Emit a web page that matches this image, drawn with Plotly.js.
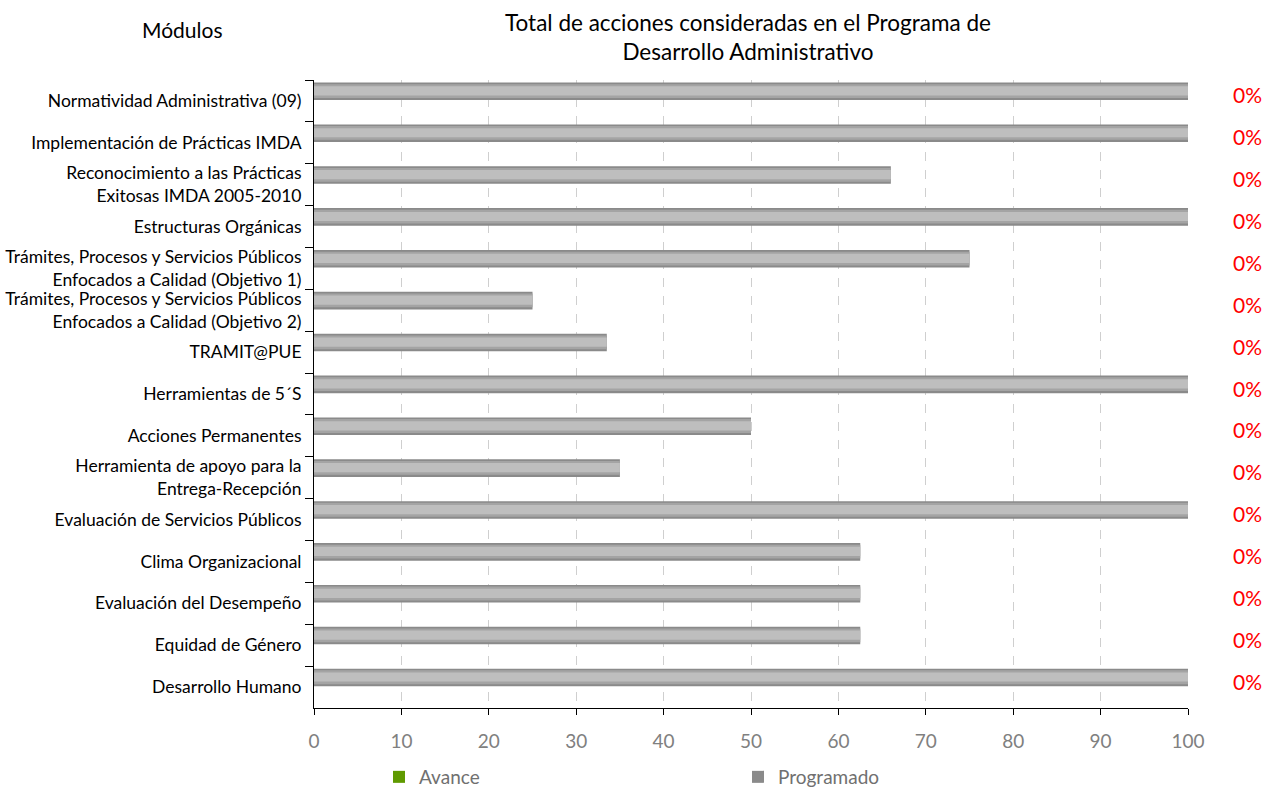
<!DOCTYPE html>
<html><head><meta charset="utf-8">
<script src="https://cdn.plot.ly/plotly-3.0.1.min.js"></script>
<style>body{margin:0;background:#fff}#c{width:1268px;height:789px}</style>
</head><body><div id="c"></div>
<script>
const categories = [
  "Normatividad Administrativa (09)",
  "Implementación de Prácticas IMDA",
  "Reconocimiento a las Prácticas<br>Exitosas IMDA 2005-2010",
  "Estructuras Orgánicas",
  "Trámites, Procesos y Servicios Públicos<br>Enfocados a Calidad (Objetivo 1)",
  "Trámites, Procesos y Servicios Públicos<br>Enfocados a Calidad (Objetivo 2)",
  "TRAMIT@PUE",
  "Herramientas de 5´S",
  "Acciones Permanentes",
  "Herramienta de apoyo para la<br>Entrega-Recepción",
  "Evaluación de Servicios Públicos",
  "Clima Organizacional",
  "Evaluación del Desempeño",
  "Equidad de Género",
  "Desarrollo Humano"
];
const programado = [100, 100, 66, 100, 75, 25, 33.5, 100, 50, 35, 100, 62.5, 62.5, 62.5, 100];
const avance = [0, 0, 0, 0, 0, 0, 0, 0, 0, 0, 0, 0, 0, 0, 0];
const avanceLabels = ["0%","0%","0%","0%","0%","0%","0%","0%","0%","0%","0%","0%","0%","0%","0%"];
const xTicks = [0,10,20,30,40,50,60,70,80,90,100];

const FONT = "Lato, 'Open Sans', sans-serif";
const traces = [
  {type:'bar', orientation:'h', name:'Avance', y:categories, x:avance,
   marker:{color:'#5f9a00', line:{width:0}}, offset:0.0, width:0.4, hoverinfo:'skip'},
  {type:'bar', orientation:'h', name:'Programado', y:categories, x:programado,
   marker:{color:'#8a8a8a', line:{width:0}}, offset:-0.44, width:0.42, hoverinfo:'skip'},
  {type:'bar', orientation:'h', name:'p2', showlegend:false, y:categories, x:programado,
   marker:{color:'#a4a4a4', line:{width:0}}, offset:-0.40, width:0.33, hoverinfo:'skip'},
  {type:'bar', orientation:'h', name:'p3', showlegend:false, y:categories, x:programado,
   marker:{color:'#bebebe', line:{width:0}}, offset:-0.35, width:0.22, hoverinfo:'skip'}
];

const annotations = categories.map((c,i)=>({
  xref:'paper', yref:'y', x:1.0686, y:c, text:avanceLabels[i], showarrow:false,
  xanchor:'center', yanchor:'middle', yshift:6,
  font:{family:FONT, size:21, color:'#ff0000'}
}));
annotations.push({xref:'paper', yref:'paper', x:(182-314)/874, y:1+(80-30)/628, text:'Módulos',
  showarrow:false, xanchor:'center', yanchor:'middle', font:{family:FONT, size:21, color:'#000'}});
annotations.push({xref:'paper', yref:'paper', x:(748-314)/874, y:1+(80-37)/628,
  text:'Total de acciones consideradas en el Programa de<br>Desarrollo Administrativo',
  showarrow:false, xanchor:'center', yanchor:'middle', align:'center',
  font:{family:FONT, size:22.5, color:'#000'}});

const layout = {
  width:1268, height:789,
  margin:{l:314, r:80, t:80, b:81, autoexpand:false},
  paper_bgcolor:'#fff', plot_bgcolor:'#fff',
  barmode:'overlay',
  font:{family:FONT},
  xaxis:{range:[0,100], tickvals:xTicks, ticktext:xTicks.map(String), showgrid:true,
    gridcolor:'#cfcfcf', griddash:'dash', gridwidth:1,
    showline:true, linecolor:'#000', linewidth:1, ticks:'outside', ticklen:6, tickcolor:'#000',
    tickfont:{family:FONT, size:19, color:'#808080'}, ticklabelstandoff:10, zeroline:false, fixedrange:true, automargin:false},
  yaxis:{type:'category', autorange:'reversed', showline:true, linecolor:'#000', linewidth:1,
    ticks:'outside', ticklen:8, tickcolor:'#000', tickson:'boundaries', showgrid:false,
    tickfont:{family:FONT, size:17.5, color:'#000'}, ticklabelstandoff:8, fixedrange:true, automargin:false},
  showlegend:true,
  legend:{orientation:'h', x:(379-314)/874, xref:'paper', y:(789-777)/789, yref:'container',
    xanchor:'left', yanchor:'middle',
    entrywidth:314, entrywidthmode:'pixels', traceorder:'normal',
    font:{family:FONT, size:19, color:'#707070'}},
  annotations:annotations
};
Plotly.newPlot('c', traces, layout, {displayModeBar:false, staticPlot:true});
</script></body></html>
